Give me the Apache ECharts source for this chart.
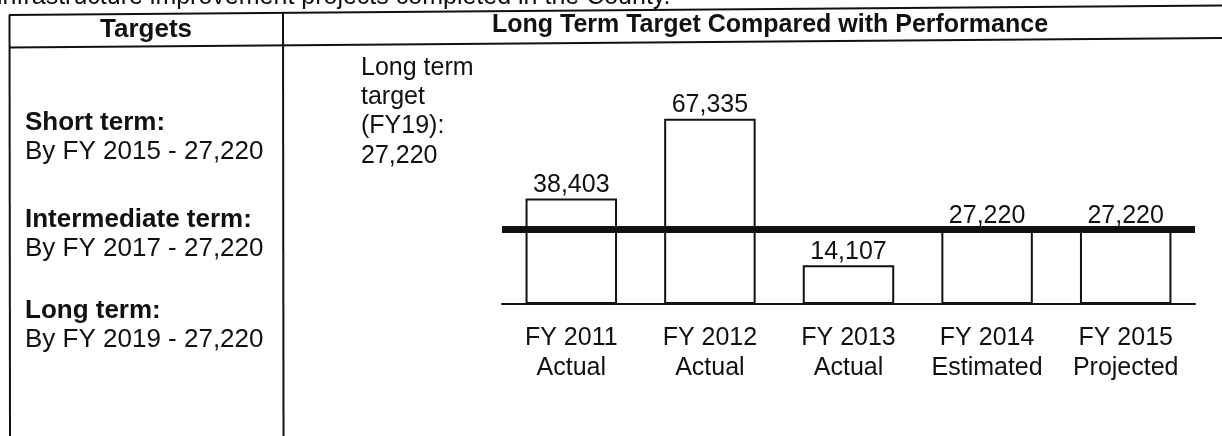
<!DOCTYPE html>
<html>
<head>
<meta charset="utf-8">
<style>
  html, body { margin: 0; padding: 0; background: #fff; }
  #chart { width: 1222px; height: 436px; }
</style>
<script src="https://cdn.jsdelivr.net/npm/echarts@6/dist/echarts.min.js"></script>
</head>
<body>
<div id="chart"></div>
<script>
const fiscalYears = ['FY 2011', 'FY 2012', 'FY 2013', 'FY 2014', 'FY 2015'];
const statuses = ['Actual', 'Actual', 'Actual', 'Estimated', 'Projected'];
const performance = [38403, 67335, 14107, 27220, 27220];
const longTermTarget = 27220;

const termNames = ['Short term:', 'Intermediate term:', 'Long term:'];
const termYears = ['By FY 2015', 'By FY 2017', 'By FY 2019'];
const termTargets = [27220, 27220, 27220];

const fmt = (v) => v.toLocaleString('en-US');
const FONT = '"Liberation Sans", Arial, sans-serif';
const INK = '#111';

const categories = fiscalYears.map((y, i) => y + '\n' + statuses[i]);

// table frame (the scan is slightly tilted)
const line = (x1, y1, x2, y2) => ({
  type: 'line',
  shape: { x1, y1, x2, y2 },
  style: { stroke: INK, lineWidth: 2 },
  silent: true
});
const text = (str, x, y, opts) => ({
  type: 'text',
  silent: true,
  style: Object.assign({
    text: str, x, y,
    font: '26px ' + FONT,
    fill: INK,
    textVerticalAlign: 'middle'
  }, opts || {})
});

const graphics = [
  text('infrastructure improvement projects completed in the County.', -3, -3, { font: '25px ' + FONT }),
  line(9, 15, 1222, 5.5),
  line(9, 47.5, 1222, 38),
  line(9.5, 15, 10, 436),
  line(283, 13, 283.5, 436),
  text('Targets', 146, 30, { font: 'bold 26px ' + FONT, textAlign: 'center' }),
  text('Long Term Target Compared with Performance', 770, 25, { font: 'bold 25px ' + FONT, textAlign: 'center' })
];

const termRows = [123, 220, 311];
termNames.forEach((name, i) => {
  graphics.push(text(name, 25, termRows[i], { font: 'bold 26px ' + FONT }));
  graphics.push(text(termYears[i] + ' - ' + fmt(termTargets[i]), 25, termRows[i] + 29));
});

['Long term', 'target', '(FY19):', fmt(longTermTarget)].forEach((s, i) => {
  graphics.push(text(s, 361, 68 + i * 29.3, { font: '25px ' + FONT }));
});

const chart = echarts.init(document.getElementById('chart'));
chart.setOption({
  animation: false,
  backgroundColor: '#fff',
  textStyle: { fontFamily: FONT },
  grid: { left: 502, right: 27, top: 84, bottom: 132 },
  xAxis: {
    type: 'category',
    data: categories,
    axisTick: { show: false },
    axisLine: { lineStyle: { color: INK, width: 2 } },
    axisLabel: {
      interval: 0,
      color: INK,
      fontSize: 25,
      lineHeight: 30,
      margin: 19,
      fontFamily: FONT
    }
  },
  yAxis: {
    type: 'value',
    min: 0,
    max: 80000,
    show: false,
    splitLine: { show: false }
  },
  series: [{
    type: 'bar',
    data: performance,
    barWidth: '66%',
    itemStyle: { color: '#fff', borderColor: INK, borderWidth: 2 },
    label: {
      show: true,
      position: 'top',
      distance: 1,
      color: INK,
      fontSize: 25,
      fontFamily: FONT,
      formatter: (p) => fmt(p.value)
    },
    markLine: {
      silent: true,
      symbol: 'none',
      label: { show: false },
      lineStyle: { color: INK, width: 7, type: 'solid' },
      data: [{ yAxis: longTermTarget }]
    }
  }],
  graphic: graphics
});
</script>
</body>
</html>
